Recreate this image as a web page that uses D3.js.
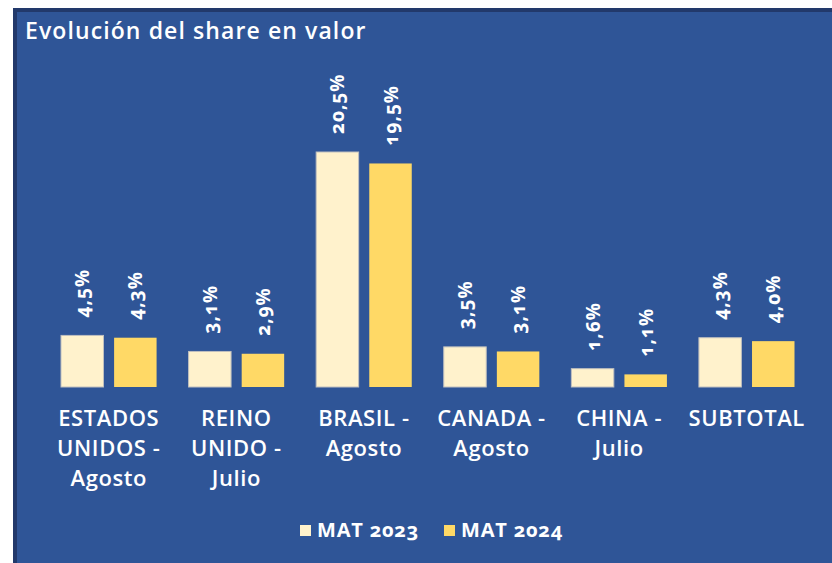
<!DOCTYPE html>
<html>
<head>
<meta charset="utf-8">
<script src="https://cdn.jsdelivr.net/npm/d3@7"></script>
<style>
  html, body { margin: 0; padding: 0; background: #ffffff; }
  svg { display: block; font-family: "Open Sans", Lato, sans-serif; font-feature-settings: "onum" 1; }
</style>
</head>
<body>
<svg id="chart" width="832" height="563"></svg>
<script>
// Market share by country, moving annual total
const categories = [
  ["ESTADOS", "UNIDOS -", "Agosto"],
  ["REINO", "UNIDO -", "Julio"],
  ["BRASIL -", "Agosto"],
  ["CANADA -", "Agosto"],
  ["CHINA -", "Julio"],
  ["SUBTOTAL"]
];
const seriesNames = ["MAT 2023", "MAT 2024"];
const mat2023 = [4.5, 3.1, 20.5, 3.5, 1.6, 4.3];
const mat2024 = [4.3, 2.9, 19.5, 3.1, 1.1, 4.0];
const seriesColors = ["#FFF2CC", "#FFD966"];

const svg = d3.select("#chart");
const W = 832, H = 563;

// panel background with dark frame
svg.append("rect").attr("x", 13).attr("y", 8).attr("width", W).attr("height", H)
  .attr("fill", "#22396B");
svg.append("rect").attr("x", 17).attr("y", 12).attr("width", W).attr("height", H)
  .attr("fill", "#2F5597");

svg.append("text")
  .attr("x", 25).attr("y", 39)
  .attr("fill", "#ffffff")
  .attr("font-size", 23)
  .attr("font-weight", 600)
  .attr("letter-spacing", 1.1)
  .text("Evolución del share en valor");

const baseline = 387;
const x0 = d3.scaleBand().domain(d3.range(categories.length)).range([45, 810.5]).paddingInner(0).paddingOuter(0);
const x1 = d3.scaleBand().domain([0, 1]).range([16, x0.bandwidth() - 16]).paddingInner(0.2);
const y = d3.scaleLinear().domain([0, 20.5]).range([baseline, 152]);

const fmt = v => d3.format(".1f")(v).replace(".", ",") + "%";
const data = categories.map((c, i) => ({ i, vals: [mat2023[i], mat2024[i]] }));

const groups = svg.append("g").selectAll("g").data(data).join("g")
  .attr("transform", d => `translate(${x0(d.i)},0)`);

groups.selectAll("rect").data(d => d.vals.map((v, s) => ({ v, s }))).join("rect")
  .attr("x", d => x1(d.s))
  .attr("width", x1.bandwidth())
  .attr("y", d => y(d.v))
  .attr("height", d => baseline - y(d.v))
  .attr("fill", d => seriesColors[d.s])
  .attr("stroke", d => d.s === 0 ? "#BFBFBF" : "none")
  .attr("stroke-width", 1);

groups.selectAll("text.val").data(d => d.vals.map((v, s) => ({ v, s }))).join("text")
  .attr("class", "val")
  .attr("transform", d => `translate(${x1(d.s) + x1.bandwidth() / 2 + 7},${y(d.v) - 18}) rotate(-90)`)
  .attr("fill", "#ffffff")
  .attr("font-size", 19)
  .attr("font-weight", 700)
  .attr("letter-spacing", 1)
  .attr("text-anchor", "start")
  .text(d => fmt(d.v));

// category labels
groups.each(function(d) {
  const t = d3.select(this).append("text")
    .attr("fill", "#ffffff")
    .attr("font-size", 22)
    .attr("font-weight", 600)
    .attr("letter-spacing", 0.6)
    .attr("text-anchor", "middle");
  categories[d.i].forEach((line, k) => {
    t.append("tspan").attr("x", x0.bandwidth() / 2).attr("y", 426 + k * 30).text(line);
  });
});

// legend
const legend = svg.append("g");
const legendItems = [{ x: 300 }, { x: 444 }];
seriesNames.forEach((name, s) => {
  legend.append("rect").attr("x", legendItems[s].x).attr("y", 525)
    .attr("width", 11).attr("height", 11).attr("fill", seriesColors[s]);
  legend.append("text").attr("x", legendItems[s].x + 17).attr("y", 537)
    .attr("fill", "#ffffff").attr("font-size", 20).attr("font-weight", 700)
    .attr("letter-spacing", 0.8)
    .text(name);
});
</script>
</body>
</html>
